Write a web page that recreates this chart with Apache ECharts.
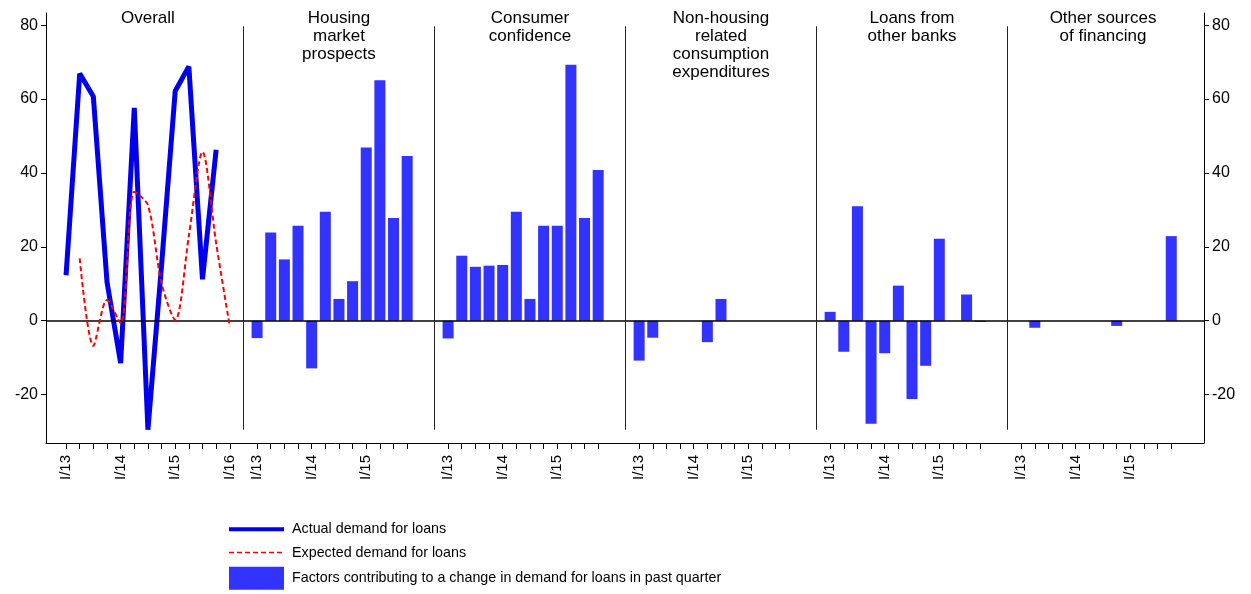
<!DOCTYPE html>
<html>
<head>
<meta charset="utf-8">
<script src="https://cdn.jsdelivr.net/npm/echarts@6/dist/echarts.min.js"></script>
<style>
    html, body {margin: 0; padding: 0; background: #fff;}
    #chart {width: 1251px; height: 594px;}
</style>
</head>
<body>
<div id="chart"></div>
<script>
// quarters I/13 .. I/16 -> 0..12
var actualDemand = [12.3, 66.9, 60.7, 10.5, -11.5, 57.6, -29.5, 15, 62.2, 68.8, 11.2, 46.3]
var expectedDemand = [null, 16.9, -6.8, 5.6, -0.7, 34.9, 31.3, 10.1, 0.2, 23, 45.7, 21, -1.6]

// factors, I/13 .. IV/15
var housingMarket = [-4.7, 23.9, 16.6, 25.7, -12.9, 29.5, 5.9, 10.7, 46.9, 65.1, 27.8, 44.6]
var consumerConfidence = [-4.8, 17.6, 14.6, 14.9, 15.1, 29.5, 5.9, 25.7, 25.7, 69.3, 27.8, 40.8]
var nonHousing = [-10.8, -4.6, null, null, null, -5.8, 5.9, null, null, null, null, null]
var otherBanks = [2.4, -8.4, 31, -27.9, -8.8, 9.5, -21.2, -12.2, 22.2, null, 7.1, -0.3]
var otherSources = [null, -1.9, null, null, null, null, null, -1.4, null, null, null, 22.9]

var panelTitles = [
    "Overall",
    "Housing\nmarket\nprospects",
    "Consumer\nconfidence",
    "Non-housing\nrelated\nconsumption\nexpenditures",
    "Loans from\nother banks",
    "Other sources\nof financing"
]
var yearLabels = ["I/13", "I/14", "I/15", "I/16"]
var yTicks = [-20, 0, 20, 40, 60, 80]

var seriesNames = [
    "Actual demand for loans",
    "Expected demand for loans",
    "Factors contributing to a change in demand for loans in past quarter"
]

var PANEL = 14   // quarters per panel slot on the shared x axis
var factorPanels = [housingMarket, consumerConfidence, nonHousing, otherBanks, otherSources]

var toPairs = function(arr, offset){
    var out = []
    for(var i = 0; i < arr.length; i++){
        out.push([offset + i, arr[i]])
    }
    return out
}

var barData = []
factorPanels.forEach(function(arr, k){
    var offset = (k + 1) * PANEL
    arr.forEach(function(v, i){
        if(v !== null) barData.push([offset + i, v])
    })
})

// tick marks and labels
var tickValues = []
var labelValues = []
for(var q = 0; q <= 12; q++){
    tickValues.push(q)
    if(q % 4 === 0) labelValues.push(q)
}
for(var k = 1; k < panelTitles.length; k++){
    for(var q2 = 0; q2 < 12; q2++){
        tickValues.push(k * PANEL + q2)
        if(q2 % 4 === 0) labelValues.push(k * PANEL + q2)
    }
}

var separators = []
for(var s = 1; s < panelTitles.length; s++){
    separators.push([
        {coord: [s * PANEL - 1, -29.5], lineStyle: {color: '#222', width: 1, type: 'solid'}},
        {coord: [s * PANEL - 1, 79.7]}
    ])
}

var yAxisBase = function(position){
    return {
        type: 'value',
        position: position,
        min: -33.1,
        max: 83.3,
        splitLine: {show: false},
        axisLine: {show: true, onZero: false, lineStyle: {color: '#000', width: 1}},
        axisTick: {show: true, length: 5, customValues: yTicks, lineStyle: {color: '#000'}},
        axisLabel: {
            customValues: yTicks,
            color: '#000',
            fontSize: 16,
            fontFamily: 'Liberation Sans',
            margin: 8
        }
    }
}

var chart = echarts.init(document.getElementById('chart'))

var option = {
    animation: false,
    backgroundColor: '#fff',
    grid: {left: 46, right: 47, top: 13, bottom: 151},
    legend: {
        orient: 'vertical',
        left: 227,
        top: 520,
        height: 120,
        padding: 0,
        itemWidth: 55,
        itemHeight: 23,
        itemGap: 5,
        textStyle: {
            color: '#000',
            fontSize: 14.3,
            fontFamily: 'Liberation Sans',
            padding: [0, 0, 0, 3]
        },
        data: [
            {name: seriesNames[0], itemStyle: {opacity: 0}, lineStyle: {width: 4}},
            {name: seriesNames[1], itemStyle: {opacity: 0}, lineStyle: {width: 1.5}},
            {name: seriesNames[2], icon: 'rect'}
        ]
    },
    xAxis: {
        type: 'value',
        min: -1.47,
        max: 83.4,
        splitLine: {show: false},
        axisLine: {show: true, onZero: false, lineStyle: {color: '#000', width: 1}},
        axisTick: {show: true, length: 6, customValues: tickValues, lineStyle: {color: '#000'}},
        axisLabel: {
            customValues: labelValues,
            rotate: 90,
            color: '#000',
            fontSize: 15,
            fontFamily: 'Liberation Sans',
            margin: 12,
            formatter: function(v){
                var local = ((Math.round(v) % PANEL) + PANEL) % PANEL
                return yearLabels[local / 4] || ''
            }
        }
    },
    yAxis: [yAxisBase('left'), yAxisBase('right')],
    series: [
        {
            name: seriesNames[2],
            type: 'bar',
            barWidth: 11,
            itemStyle: {color: '#3333ff'},
            data: barData,
            markLine: {
                silent: true,
                symbol: ['none', 'none'],
                label: {show: false},
                animation: false,
                data: [
                    {yAxis: 0, lineStyle: {color: '#000', width: 1.5, type: 'solid'}}
                ].concat(separators)
            }
        },
        {
            name: seriesNames[0],
            type: 'line',
            symbol: 'none',
            lineStyle: {color: '#0000ee', width: 5},
            itemStyle: {color: '#0000ee'},
            data: toPairs(actualDemand, 0),
            z: 4
        },
        {
            name: seriesNames[1],
            type: 'line',
            symbol: 'none',
            smooth: 0.3,
            lineStyle: {color: '#ff0000', width: 2, type: [5, 3]},
            itemStyle: {color: '#ff0000'},
            data: toPairs(expectedDemand, 0).filter(function(p){ return p[1] !== null }),
            z: 5
        }
    ]
}

chart.setOption(option)

// panel titles centered on each panel slot
var titleGraphics = panelTitles.map(function(t, k){
    var cx = chart.convertToPixel({xAxisIndex: 0}, k * PANEL + 6)
    return {
        type: 'text',
        x: cx,
        y: 9,
        style: {
            text: t,
            align: 'center',
            verticalAlign: 'top',
            fontSize: 17,
            lineHeight: 18,
            fontFamily: 'Liberation Sans',
            fill: '#000'
        }
    }
})
chart.setOption({graphic: titleGraphics})
</script>
</body>
</html>
